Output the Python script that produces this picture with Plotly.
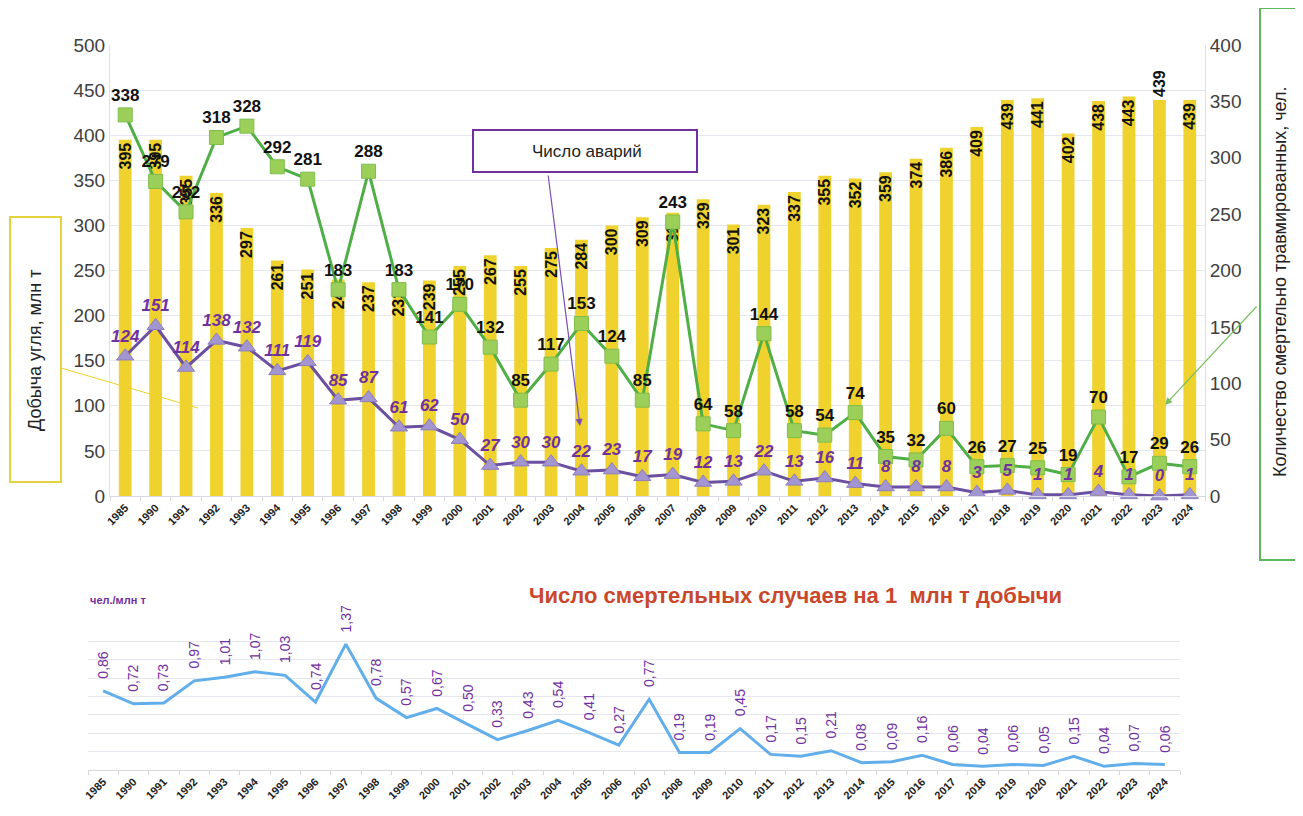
import plotly.graph_objects as go

years = ["1985"] + [str(y) for y in range(1990, 2025)]
production = [395, 395, 355, 336, 297, 261, 251, 240, 237, 232, 239, 255, 267, 255, 275, 284,
              300, 309, 314, 329, 301, 323, 337, 355, 352, 359, 374, 386, 409, 439, 441, 402,
              438, 443, 439, 439]
fatalities = [338, 279, 252, 318, 328, 292, 281, 183, 288, 183, 141, 170, 132, 85, 117, 153,
              124, 85, 243, 64, 58, 144, 58, 54, 74, 35, 32, 60, 26, 27, 25, 19, 70, 17, 29, 26]
accidents = [124, 151, 114, 138, 132, 111, 119, 85, 87, 61, 62, 50, 27, 30, 30, 22, 23, 17, 19,
             12, 13, 22, 13, 16, 11, 8, 8, 8, 3, 5, 1, 1, 4, 1, 0, 1]
rate = [0.86, 0.72, 0.73, 0.97, 1.01, 1.07, 1.03, 0.74, 1.37, 0.78, 0.57, 0.67, 0.50, 0.33,
        0.43, 0.54, 0.41, 0.27, 0.77, 0.19, 0.19, 0.45, 0.17, 0.15, 0.21, 0.08, 0.09, 0.16,
        0.06, 0.04, 0.06, 0.05, 0.15, 0.04, 0.07, 0.06]

W, H = 1303, 816
OFF = 8  # default page body margin
FONT = "Arial, Liberation Sans, sans-serif"
YELLOW = "#EFD22E"
GREEN = "#4FAE45"
GREEN_M = "#9BCF5A"
PURPLE = "#6B4FA0"
PURPLE_M = "#A396D0"
LABEL_PURPLE = "#7030A0"
GRID = "#E6E6EE"
N = len(years)


def px(x):
    return (x - OFF) / W


def py(y):
    return (H - (y - OFF)) / H


fig = go.Figure()

bar_pos = ["outside" if y == "2023" else "inside" for y in years]
fig.add_trace(go.Bar(
    x=years, y=production, xaxis="x", yaxis="y",
    marker=dict(color=YELLOW, line=dict(width=0)),
    text=[str(v) for v in production], textposition=bar_pos,
    insidetextanchor="end", textangle=-90, constraintext="none",
    textfont=dict(family=FONT, size=16, color="#111", weight="bold"),
    cliponaxis=False, showlegend=False,
))
fig.add_trace(go.Scatter(
    x=years, y=fatalities, xaxis="x", yaxis="y2", mode="lines+markers+text",
    line=dict(color=GREEN, width=3),
    marker=dict(symbol="square", size=14, color=GREEN_M, line=dict(color="#7DBE4A", width=1)),
    text=[str(v) for v in fatalities], textposition="top center",
    textfont=dict(family=FONT, size=17, color="#111", weight="bold"),
    cliponaxis=False, showlegend=False,
))
fig.add_trace(go.Scatter(
    x=years, y=accidents, xaxis="x", yaxis="y2", mode="lines+markers+text",
    line=dict(color=PURPLE, width=3),
    marker=dict(symbol="triangle-up", size=15, color=PURPLE_M, line=dict(color="#8C7DC0", width=1)),
    text=[str(v) for v in accidents], textposition="top center",
    textfont=dict(family=FONT, size=17, color=LABEL_PURPLE, weight="bold", style="italic"),
    cliponaxis=False, showlegend=False,
))
fig.add_trace(go.Scatter(
    x=years, y=rate, xaxis="x3", yaxis="y3", mode="lines",
    line=dict(color="#62AEEA", width=3),
    cliponaxis=False, showlegend=False,
))

annotations = []
for i, v in enumerate(rate):
    annotations.append(dict(
        x=i, y=v, xref="x3", yref="y3", text=f"{v:.2f}".replace(".", ","),
        textangle=-90, showarrow=False, xanchor="center", yanchor="bottom", yshift=10,
        font=dict(family=FONT, size=14, color=LABEL_PURPLE),
    ))

# boxes with labels
annotations += [
    dict(x=px(35), y=py(350), xref="paper", yref="paper", text="Добыча угля, млн т",
         xanchor="center", yanchor="middle",
         textangle=-90, showarrow=False, font=dict(family=FONT, size=18, color="#222")),
    dict(x=px(1280), y=py(282), xref="paper", yref="paper",
         text="Количество смертельно травмированных, чел.",
         xanchor="center", yanchor="middle",
         textangle=-90, showarrow=False, font=dict(family=FONT, size=18, color="#222")),
    dict(x=px(587), y=py(151), xref="paper", yref="paper", text="Число аварий",
         xanchor="center", yanchor="middle",
         showarrow=False, font=dict(family=FONT, size=17, color="#222")),
    dict(x=px(580), y=py(426), xref="paper", yref="paper", text="", showarrow=True,
         ax=-32, ay=-252, arrowhead=2, arrowsize=1.2, arrowwidth=1.2, arrowcolor="#7B4FB0"),
    dict(x=px(1165), y=py(405), xref="paper", yref="paper", text="", showarrow=True,
         ax=93, ay=-100, arrowhead=2, arrowsize=1.2, arrowwidth=1.2, arrowcolor="#78C060"),
    dict(x=px(795), y=py(595), xref="paper", yref="paper",
         text="Число смертельных случаев на 1  млн т добычи",
         xanchor="center", yanchor="middle",
         showarrow=False, font=dict(family=FONT, size=22, color="#C9472B", weight="bold")),
    dict(x=px(88), y=py(600), xref="paper", yref="paper", xanchor="left", yanchor="middle",
         text="чел./млн т", showarrow=False,
         font=dict(family=FONT, size=11, color=LABEL_PURPLE, weight="bold")),
]

shapes = [
    dict(type="rect", xref="paper", yref="paper", x0=px(10), x1=px(61), y0=py(482), y1=py(217),
         line=dict(color="#E4D33C", width=2), fillcolor="white"),
    dict(type="line", xref="paper", yref="paper", x0=px(61), y0=py(368), x1=px(198), y1=py(408),
         line=dict(color="#F0D12D", width=1)),
    dict(type="rect", xref="paper", yref="paper", x0=px(473), x1=px(697), y0=py(172), y1=py(130),
         line=dict(color="#7030A0", width=2), fillcolor="white"),
    dict(type="rect", xref="paper", yref="paper", x0=px(1260), x1=px(1301), y0=py(560), y1=py(8),
         line=dict(color="#5DB85A", width=2), fillcolor="white"),
]

tickfont = dict(family=FONT, size=11, color="#222", weight="bold")
ytickfont = dict(family=FONT, size=19, color="#404040")

fig.update_layout(
    width=W, height=H, margin=dict(l=0, r=0, t=0, b=0, autoexpand=False),
    paper_bgcolor="white", plot_bgcolor="white",
    font=dict(family=FONT, color="#333"),
    bargap=0.58, showlegend=False,
    annotations=annotations, shapes=shapes,
    xaxis=dict(domain=[px(110), px(1205)], anchor="y", type="category", automargin=False,
               range=[-0.5, N - 0.5],
               tickangle=-45, tickfont=tickfont, tickson="boundaries",
               showgrid=False, showline=True, linecolor="#D8D8E2",
               ticks="outside", ticklen=4, tickcolor="#D8D8E2"),
    yaxis=dict(domain=[py(496), py(45)], range=[0, 500], dtick=50, automargin=False,
               tickfont=ytickfont,
               gridcolor=GRID, showline=True, linecolor="#E0E0EA", zeroline=False),
    yaxis2=dict(overlaying="y", side="right", range=[0, 400], dtick=50, anchor="x",
                automargin=False, tickfont=ytickfont, showgrid=False,
                showline=True, linecolor="#E0E0EA", zeroline=False),
    xaxis3=dict(domain=[px(88), px(1180)], anchor="y3", type="category", automargin=False,
                range=[-0.5, N - 0.5],
                tickangle=-45, tickfont=tickfont, tickson="boundaries",
                showgrid=False, showline=True, linecolor="#D8D8D8",
                ticks="outside", ticklen=4, tickcolor="#D8D8D8"),
    yaxis3=dict(domain=[py(770), py(623)], range=[0, 1.6], dtick=0.2, automargin=False,
                showticklabels=False, gridcolor=GRID, zeroline=False),
)

fig.write_html("out.html")
